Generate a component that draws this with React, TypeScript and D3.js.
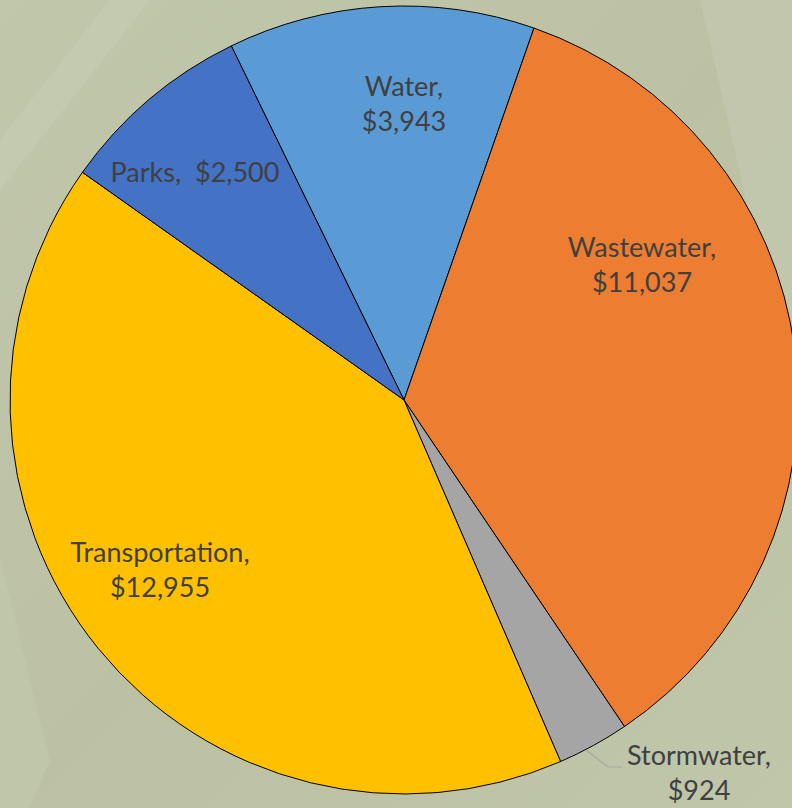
import React from "react";
import * as d3 from "d3";

const categories = ["Water", "Wastewater", "Stormwater", "Transportation", "Parks"];
const values = [3943, 11037, 924, 12955, 2500];
const colors = ["#5b9bd5", "#ed7d31", "#a5a5a5", "#ffc000", "#4472c4"];
const labelLines = [
  ["Water,", "$3,943"],
  ["Wastewater,", "$11,037"],
  ["Stormwater,", "$924"],
  ["Transportation,", "$12,955"],
  ["Parks,  $2,500"],
];
const labelPos: [number, number][] = [
  [404, 96],
  [642, 257],
  [699, 765],
  [160, 562],
  [195, 182],
];

export default function App() {
  const W = 792, H = 808;
  const cx = 404, cy = 400, r = 394;
  const start = (-26 * Math.PI) / 180;
  const pie = d3.pie<number>().sort(null).startAngle(start).endAngle(start + 2 * Math.PI);
  const arcs = pie(values);
  const arc = d3.arc<d3.PieArcDatum<number>>().innerRadius(0).outerRadius(r);

  const sw = arcs[2];
  const mid = (sw.startAngle + sw.endAngle) / 2 + 0.02;
  const lx0 = cx + Math.sin(mid) * r;
  const ly0 = cy - Math.cos(mid) * r;

  return (
    <svg width={W} height={H} style={{ position: "absolute", left: 0, top: 0 }}>
      <defs>
        <linearGradient id="bg" x1="0" y1="0" x2="1" y2="1">
          <stop offset="0" stopColor="#c1c7ab" />
          <stop offset="0.5" stopColor="#bcc1a3" />
          <stop offset="1" stopColor="#c0c6a9" />
        </linearGradient>
      </defs>
      <rect width={W} height={H} fill="url(#bg)" />
      <path d="M0,140 L110,0 L150,0 L0,190 Z" fill="#c8cfb6" opacity={0.4} />
      <path d="M0,560 L50,760 L30,808 L0,808 Z" fill="#c6ccb2" opacity={0.4} />
      <path d="M600,0 L792,0 L792,400 L700,0 Z" fill="#c5ccb6" opacity={0.5} />
      <g transform={`translate(${cx},${cy})`}>
        {arcs.map((a, i) => (
          <path key={categories[i]} d={arc(a) || ""} fill={colors[i]} stroke="#000" strokeWidth={1} />
        ))}
      </g>
      <polyline
        points={`${lx0},${ly0 + 1} 608,767 622,767`}
        fill="none"
        stroke="#a5a8a0"
        strokeWidth={1.2}
      />
      {labelLines.map((lines, i) => (
        <text
          key={categories[i]}
          x={labelPos[i][0]}
          y={labelPos[i][1]}
          textAnchor="middle"
          fontFamily="Lato, 'Open Sans', sans-serif"
          fontSize={27}
          fill="#404040"
          style={{ whiteSpace: "pre" }}
        >
          {lines.map((l, j) => (
            <tspan key={j} x={labelPos[i][0]} dy={j === 0 ? 0 : 35}>
              {l}
            </tspan>
          ))}
        </text>
      ))}
    </svg>
  );
}
